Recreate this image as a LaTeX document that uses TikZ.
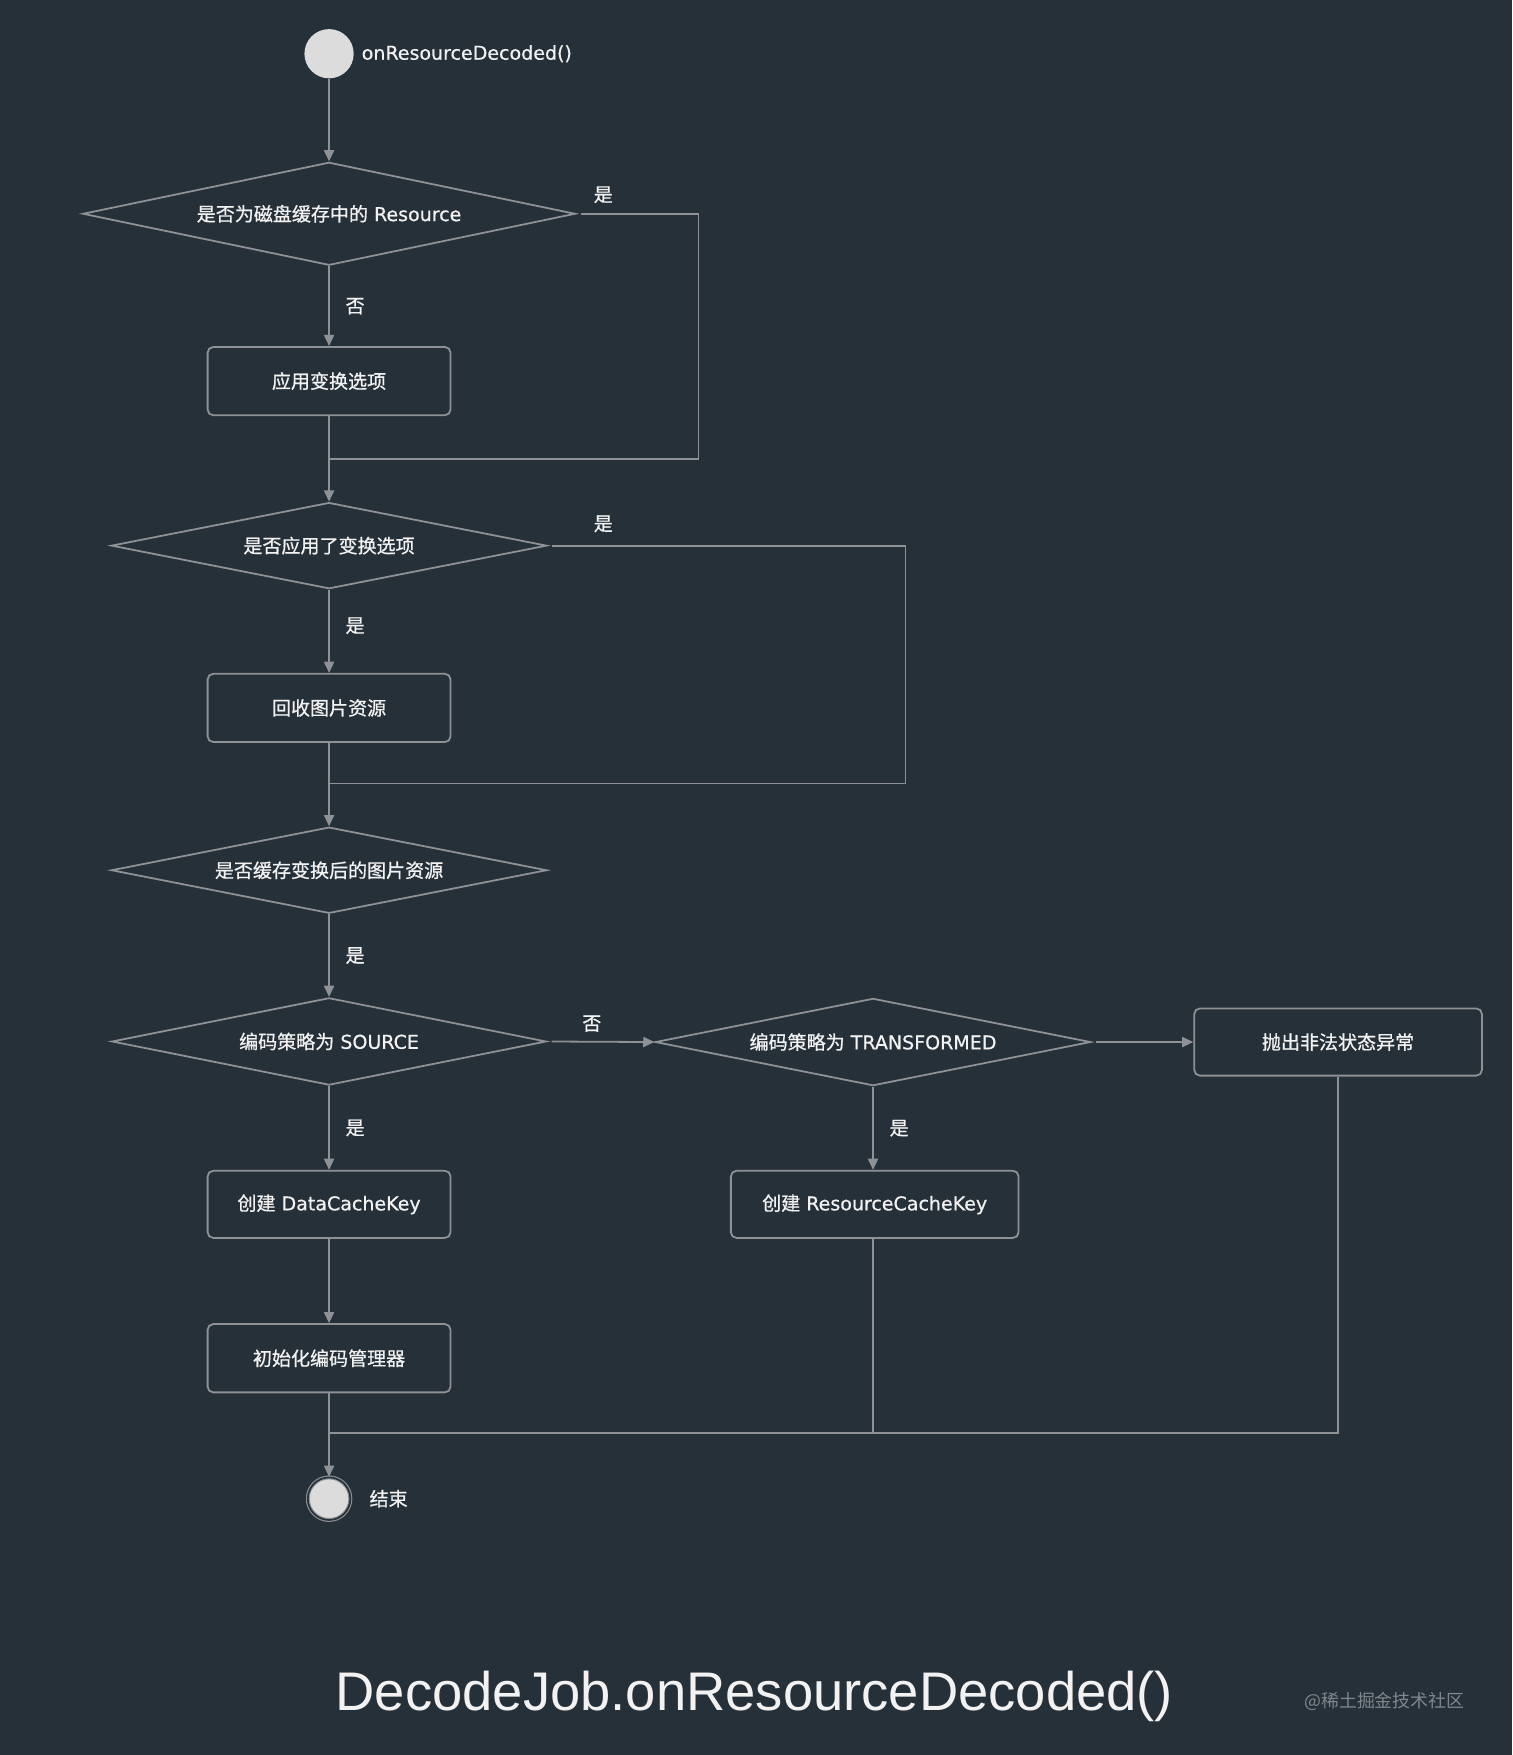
\documentclass[tikz,border=0pt]{standalone}
\usepackage{fontspec}
\setmainfont[FakeBold=0.6]{DejaVu Sans}
\newfontfamily\cjk[FakeBold=0.8]{Noto Sans CJK SC}
\newfontfamily\wmfont{Noto Sans CJK SC}
\newfontfamily\titlefont{Liberation Sans}
\usetikzlibrary{shapes.geometric,arrows.meta}
\definecolor{bg}{HTML}{263038}
\definecolor{ln}{HTML}{8E9296}
\definecolor{tx}{HTML}{F2F2F2}
\definecolor{dot}{HTML}{DCDCDC}
\definecolor{wm}{HTML}{7F878E}
\begin{document}
\begin{tikzpicture}[x=1pt,y=-1pt,
  every node/.style={text=tx, font=\fontsize{17}{20}\selectfont},
  dia/.style 2 args={diamond, draw=ln, line width=1.6pt, inner sep=0pt, aspect=4,
    minimum width=#1pt, minimum height=#2pt},
  box/.style 2 args={rectangle, rounded corners=5pt, draw=ln, line width=1.6pt,
    minimum width=#1pt, minimum height=#2pt, inner sep=0pt},
  conn/.style={draw=ln, line width=1.6pt},
  arr/.style={conn, -{Triangle[length=10pt,width=9pt]}},
  lab/.style={inner sep=0pt},
]
\fill[bg] (0,0) rectangle (1351,1568);
\useasboundingbox (0,0) rectangle (1351,1568);

% nodes
\node[circle, fill=dot, minimum size=44pt, inner sep=0pt] (start) at (294,48) {};
\node[lab, anchor=west] (startlab) at (323,48) {onResourceDecoded()};

\node[dia={440}{92}] (d1) at (294,191) {{\cjk 是否为磁盘缓存中的} Resource};
\node[box={217}{61}] (b1) at (294,340.5) {\cjk 应用变换选项};
\node[dia={389}{77}] (d2) at (294,487.5) {\cjk 是否应用了变换选项};
\node[box={217}{61}] (b2) at (294,632.5) {\cjk 回收图片资源};
\node[dia={389}{77}] (d3) at (294,777.5) {\cjk 是否缓存变换后的图片资源};
\node[dia={388}{78}] (d4) at (294,930.5) {{\cjk 编码策略为} SOURCE};
\node[dia={389}{78}] (d5) at (780,931) {{\cjk 编码策略为} TRANSFORMED};
\node[box={257}{60}] (throw) at (1195.5,931) {\cjk 抛出非法状态异常};
\node[box={217}{60}] (dck) at (294,1076) {{\cjk 创建} DataCacheKey};
\node[box={257}{60}] (rck) at (781.5,1076) {{\cjk 创建} ResourceCacheKey};
\node[box={217}{61}] (init) at (294,1213.5) {\cjk 初始化编码管理器};
\node[circle, fill=dot, draw=ln, double=bg, double distance=1.5pt, line width=1pt,
  minimum size=38pt, inner sep=0pt] (end) at (294,1339) {};
\node[lab, anchor=west] (endlab) at (330,1339) {\cjk 结束};

\coordinate (r1) at (624,410);
\coordinate (j1) at (294,410);
\coordinate (r2) at (809,700);
\coordinate (j2) at (294,700);
\coordinate (m) at (294,1280);

% connectors
\draw[arr] (start.south) -- (d1.north);
\draw[arr] (d1.south) -- node[lab, midway, right=14pt] {\cjk 否} (b1.north);
\draw[conn, shorten <=4pt] (d1.east) -| (r1) -- (j1);
\node[lab] at (539,174) {\cjk 是};
\draw[arr] (b1.south) -- (d2.north);

\draw[arr] (d2.south) -- node[lab, midway, right=14pt, yshift=5pt] {\cjk 是} (b2.north);
\draw[conn, shorten <=4pt] (d2.east) -| (r2) -- (j2);
\node[lab] at (539,468) {\cjk 是};
\draw[arr] (b2.south) -- (d3.north);

\draw[arr] (d3.south) -- node[lab, midway, right=14pt] {\cjk 是} (d4.north);
\draw[arr, shorten <=4pt] (d4.east) -- node[lab, midway, above=8pt, xshift=-8pt] {\cjk 否} (d5.west);
\draw[arr, shorten <=4pt] (d5.east) -- (throw.west);
\draw[arr] (d4.south) -- node[lab, midway, right=14pt] {\cjk 是} (dck.north);
\draw[arr] (d5.south) -- node[lab, midway, right=14pt] {\cjk 是} (d5.south |- rck.north);
\draw[arr] (dck.south) -- (init.north);
\draw[arr] (init.south) -- (end.north);
\draw[conn] (rck.south -| d5.south) -- (d5.south |- m);
\draw[conn] (throw.south) |- (m);

% title and watermark
\node[anchor=base, font=\titlefont\fontsize{48.6}{58}\selectfont] (title) at (674,1528) {DecodeJob.onResourceDecoded()};
\node[anchor=east, text=wm, font=\wmfont\fontsize{16}{19}\selectfont] (wmark) at (1312,1520) {@稀土掘金技术社区};
\end{tikzpicture}
\end{document}
